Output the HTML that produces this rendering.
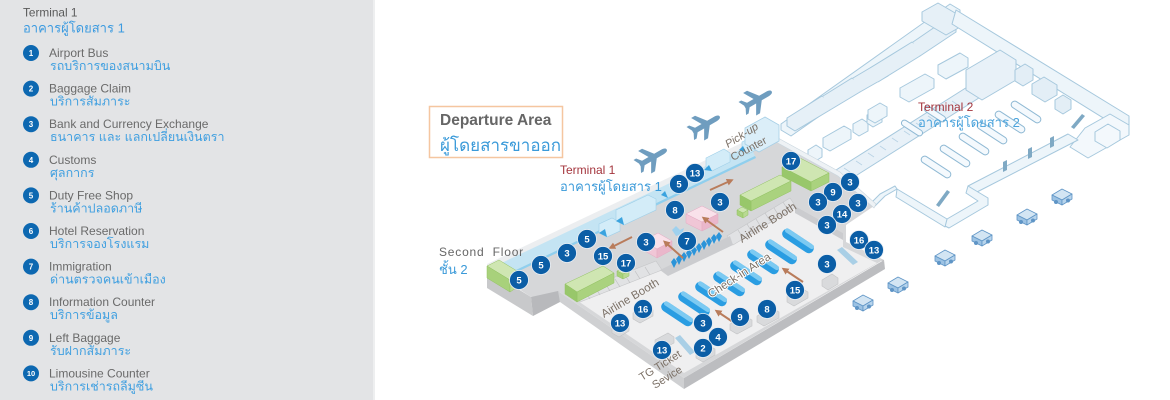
<!DOCTYPE html>
<html><head><meta charset="utf-8"><style>
html,body{margin:0;padding:0;background:#fff;}
svg{display:block;font-family:"Liberation Sans",sans-serif;}
</style></head><body>
<svg width="1170" height="400" viewBox="0 0 1170 400" xmlns="http://www.w3.org/2000/svg">
<defs>
<marker id="ah" markerWidth="7" markerHeight="7" refX="3" refY="3.5" orient="auto" markerUnits="userSpaceOnUse" viewBox="0 0 7 7"><path d="M0,0 L7,3.5 L0,7 Z" fill="#b97c5b"/></marker>
<g id="plane"><path d="M17,0 C17,-2 14,-2.6 12,-2.6 L4,-2.6 L-4,-13 L-8.5,-13 L-2.5,-2.6 L-10,-2.6 L-14,-7.5 L-17,-7.5 L-14,-1.6 L-14,1.6 L-17,7.5 L-14,7.5 L-10,2.6 L-2.5,2.6 L-8.5,13 L-4,13 L4,2.6 L12,2.6 C14,2.6 17,2 17,0 Z" fill="#6f9dbf"/></g>
<g id="car" stroke="#5f95c6" stroke-width="0.8" stroke-linejoin="round">
<path d="M-10,-1 L0,-7 L10,-2 L0,4 Z" fill="#d3e5f3"/>
<path d="M-10,-1 L0,4 L0,9 L-10,4 Z" fill="#9cc2e3"/>
<path d="M0,4 L10,-2 L10,3 L0,9 Z" fill="#b7d4ec"/>
<circle cx="-6" cy="6" r="1.6" fill="#5f95c6"/><circle cx="6" cy="4.5" r="1.6" fill="#5f95c6"/>
</g>
<g id="bar"><rect x="-18" y="-5" width="36" height="10" rx="5" fill="#2a9de2"/><rect x="-17" y="-5" width="34" height="4.5" rx="2.2" fill="#7ccaf2"/></g>
</defs>

<!-- LEFT PANEL -->
<rect x="0" y="0" width="373" height="400" fill="#e3e4e6"/>
<rect x="373" y="0" width="2" height="400" fill="#eeeff0"/>
<text x="23" y="16.5" font-size="11.8" fill="#5a5a5a">Terminal 1</text>
<text x="23" y="32.5" font-size="13" fill="#3d9be0">อาคารผู้โดยสาร 1</text>

<g font-size="12" fill="#6a6a6a">
<g>
<circle cx="31" cy="53" r="8" fill="#0d68b1"/><text x="31" y="56" font-size="8" font-weight="bold" fill="#fff" text-anchor="middle">1</text>
<text x="49" y="57">Airport Bus</text><text x="50" y="70" font-size="12.5" fill="#3f9fe0">รถบริการของสนามบิน</text>
</g>
<g>
<circle cx="31" cy="88.6" r="8" fill="#0d68b1"/><text x="31" y="91.6" font-size="8" font-weight="bold" fill="#fff" text-anchor="middle">2</text>
<text x="49" y="92.6">Baggage Claim</text><text x="50" y="105.6" font-size="12.5" fill="#3f9fe0">บริการสัมภาระ</text>
</g>
<g>
<circle cx="31" cy="124.2" r="8" fill="#0d68b1"/><text x="31" y="127.2" font-size="8" font-weight="bold" fill="#fff" text-anchor="middle">3</text>
<text x="49" y="128.2">Bank and Currency Exchange</text><text x="50" y="141.2" font-size="12.5" fill="#3f9fe0">ธนาคาร และ แลกเปลี่ยนเงินตรา</text>
</g>
<g>
<circle cx="31" cy="159.8" r="8" fill="#0d68b1"/><text x="31" y="162.8" font-size="8" font-weight="bold" fill="#fff" text-anchor="middle">4</text>
<text x="49" y="163.8">Customs</text><text x="50" y="176.8" font-size="12.5" fill="#3f9fe0">ศุลกากร</text>
</g>
<g>
<circle cx="31" cy="195.4" r="8" fill="#0d68b1"/><text x="31" y="198.4" font-size="8" font-weight="bold" fill="#fff" text-anchor="middle">5</text>
<text x="49" y="199.4">Duty Free Shop</text><text x="50" y="212.4" font-size="12.5" fill="#3f9fe0">ร้านค้าปลอดภาษี</text>
</g>
<g>
<circle cx="31" cy="231" r="8" fill="#0d68b1"/><text x="31" y="234" font-size="8" font-weight="bold" fill="#fff" text-anchor="middle">6</text>
<text x="49" y="235">Hotel Reservation</text><text x="50" y="248" font-size="12.5" fill="#3f9fe0">บริการจองโรงแรม</text>
</g>
<g>
<circle cx="31" cy="266.6" r="8" fill="#0d68b1"/><text x="31" y="269.6" font-size="8" font-weight="bold" fill="#fff" text-anchor="middle">7</text>
<text x="49" y="270.6">Immigration</text><text x="50" y="283.6" font-size="12.5" fill="#3f9fe0">ด่านตรวจคนเข้าเมือง</text>
</g>
<g>
<circle cx="31" cy="302.2" r="8" fill="#0d68b1"/><text x="31" y="305.2" font-size="8" font-weight="bold" fill="#fff" text-anchor="middle">8</text>
<text x="49" y="306.2">Information Counter</text><text x="50" y="319.2" font-size="12.5" fill="#3f9fe0">บริการข้อมูล</text>
</g>
<g>
<circle cx="31" cy="337.8" r="8" fill="#0d68b1"/><text x="31" y="340.8" font-size="8" font-weight="bold" fill="#fff" text-anchor="middle">9</text>
<text x="49" y="341.8">Left Baggage</text><text x="50" y="354.8" font-size="12.5" fill="#3f9fe0">รับฝากสัมภาระ</text>
</g>
<g>
<circle cx="31" cy="373.4" r="8" fill="#0d68b1"/><text x="31" y="376.2" font-size="7.5" font-weight="bold" fill="#fff" text-anchor="middle">10</text>
<text x="49" y="377.4">Limousine Counter</text><text x="50" y="390.4" font-size="12.5" fill="#3f9fe0">บริการเช่ารถลีมูซีน</text>
</g>
</g>

<!-- TERMINAL 2 (light outlines) -->
<g stroke="#a6c8dd" stroke-width="1" fill="#edf5fa" stroke-linejoin="round">
<path d="M781,124 L950,4 L960,10 L960,18 L791,136 L781,130 Z"/>
<path d="M787,118 L822,96 L830,101 L830,110 L795,131 L787,126 Z" fill="#e6f0f7"/>
<path d="M823,96 L852,78 L860,83 L860,92 L830,110" fill="#e6f0f7"/>
<path d="M853,78 L880,62 L888,67 L888,76 L860,92" fill="#e6f0f7"/>
<path d="M870,68 L912,42 L920,47 L920,56 L878,82" fill="#e6f0f7"/>
<path d="M913,42 L948,18 L956,23 L956,32 L920,56" fill="#e6f0f7"/>
<path d="M922,12 L938,3 L962,17 L962,26 L946,35 L922,21 Z" fill="#e6f0f7"/>
<path d="M956,10 L1129,116 L1129,125 L1121,129 L952,24 Z"/>
<path d="M1085,128 L1110,114 L1129,125 L1129,135 L1088,158 L1070,147 Z" fill="#f3f8fc"/>
<path d="M1068,134 L1078,140 L977,192 L968,186 Z"/>
<path d="M968,186 L988,198 L988,205 L949,228 L945,226 L947,219 L978,201 L966,193 Z"/>
<path d="M947,219 L945,227 L896,197 L897,189 Z"/>
<path d="M897,189 L885,196 L874,207 L870,204 L880,194 L895,186 Z"/>
<path d="M836,170 L972,84 L982,90 L982,96 L846,182 L836,176 Z" fill="#e8f1f8"/>
<path d="M966,70 L1000,50 L1016,60 L1016,80 L982,100 L966,90 Z" fill="#e8f1f8"/>
<path d="M900,88 L925,74 L934,79 L934,88 L909,102 L900,97 Z"/>
<path d="M938,65 L960,53 L968,58 L968,67 L946,79 L938,74 Z"/>
<path d="M808,150 L816,145 L822,149 L822,157 L814,162 L808,158 Z"/>
<path d="M823,138 L844,126 L851,130 L851,139 L830,151 L823,147 Z"/>
<path d="M853,124 L862,119 L868,123 L868,131 L859,136 L853,132 Z"/>
<path d="M867,115 L876,110 L882,114 L882,122 L873,127 L867,123 Z"/>
<path d="M868,110 L880,103 L887,107 L887,116 L875,123 L868,119 Z"/>
<path d="M1015,70 L1025,64 L1033,69 L1033,80 L1023,86 L1015,81 Z" fill="#e3eef6"/>
<path d="M1032,84 L1044,77 L1057,85 L1057,95 L1045,102 L1032,94 Z" fill="#e3eef6"/>
<path d="M1055,100 L1063,95 L1071,100 L1071,109 L1063,114 L1055,109 Z" fill="#e3eef6"/>
<path d="M1095,132 L1108,124 L1120,131 L1120,140 L1107,148 L1095,141 Z" fill="#f3f8fc"/>
</g>
<g stroke="#b8d3e4" stroke-width="0.8">
<line x1="850" y1="172" x2="844" y2="168"/><line x1="862" y1="165" x2="856" y2="161"/><line x1="874" y1="157" x2="868" y2="153"/><line x1="886" y1="150" x2="880" y2="146"/><line x1="898" y1="142" x2="892" y2="138"/><line x1="910" y1="135" x2="904" y2="131"/><line x1="922" y1="127" x2="916" y2="123"/><line x1="934" y1="120" x2="928" y2="116"/><line x1="946" y1="112" x2="940" y2="108"/><line x1="958" y1="105" x2="952" y2="101"/>
</g>
<g fill="#7fa9c4">
<path d="M1003,162 L1007,160 L1007,170 L1003,172 Z"/><path d="M1028,149 L1032,147 L1032,157 L1028,159 Z"/><path d="M1050,138 L1054,136 L1054,146 L1050,148 Z"/>
<path d="M936,205 L947,190 L950,192 L939,207 Z"/>
<path d="M1071,127 L1082,114 L1085,116 L1074,129 Z"/>
</g>
<g fill="#f4f9fd" stroke="#8fb9d4" stroke-width="1">
<rect x="-17" y="-3.5" width="34" height="7" rx="3.5" transform="translate(936,167) rotate(33)"/>
<rect x="-17" y="-3.5" width="34" height="7" rx="3.5" transform="translate(955,156) rotate(33)"/>
<rect x="-17" y="-3.5" width="34" height="7" rx="3.5" transform="translate(974,144) rotate(33)"/>
<rect x="-17" y="-3.5" width="34" height="7" rx="3.5" transform="translate(992,133) rotate(33)"/>
<rect x="-17" y="-3.5" width="34" height="7" rx="3.5" transform="translate(1010,122) rotate(33)"/>
<rect x="-17" y="-3.5" width="34" height="7" rx="3.5" transform="translate(1026,112) rotate(33)"/>
<rect x="-12" y="-3" width="24" height="6" rx="3" transform="translate(912,128) rotate(33)"/>
<rect x="-12" y="-3" width="24" height="6" rx="3" transform="translate(935,114) rotate(33)"/>
</g>

<!-- PLANES -->
<use href="#plane" transform="translate(652,158) rotate(-30)"/>
<use href="#plane" transform="translate(705,125) rotate(-30)"/>
<use href="#plane" transform="translate(757,100) rotate(-30)"/>

<!-- CARS -->
<use href="#car" transform="translate(863,302)"/>
<use href="#car" transform="translate(898,284)"/>
<use href="#car" transform="translate(945,257)"/>
<use href="#car" transform="translate(982,237)"/>
<use href="#car" transform="translate(1027,216)"/>
<use href="#car" transform="translate(1062,196)"/>

<!-- TERMINAL 1 -->
<path d="M487,270 L531,297 L533,316 L487,288 Z" fill="#c8c9cb"/>
<path d="M531,297 L559,284 L560,302 L533,316 Z" fill="#b8b9bc"/>
<path d="M558,291 L684,378 L684,389 L560,302 Z" fill="#cfd0d2"/>
<path d="M684,378 L884,260 L885,269 L684,389 Z" fill="#bcbdc0"/>
<path d="M845,242 L884,260 L884,262 L845,244 Z" fill="#c3c4c6"/>
<path d="M487,268 L748,144 L778,140 L838,174 L874,206 L846,225 L846,242 L883,260 L684,378 L558,291 L531,297 Z" fill="#d6d7d9"/>
<path d="M778,138 L840,172 L876,204 L874,208 L838,176 L776,142 Z" fill="#eef2f5" stroke="#c9d6df" stroke-width="0.6"/>
<path d="M487,264 L748,140 L752,146 L752,150 L492,274 L487,271 Z" fill="#eceef0"/>
<path d="M491,268 L750,145 L755,156 L495,280 Z" fill="#c4e4f3"/>
<path d="M495,280 L755,156 L756,158 L496,282 Z" fill="#8fcfee"/>
<g stroke="#9fcfe8" stroke-width="0.6">
<path d="M599,224 L612,218 L620,222 L620,231 L607,237 L599,233 Z" fill="#d3ecf8"/>
<path d="M616,210 L648,195 L656,199 L656,210 L624,225 L616,221 Z" fill="#d3ecf8"/>
<path d="M706,158 L724,149 L730,153 L730,162 L712,171 L706,167 Z" fill="#d3ecf8"/>
<path d="M742,142 L762,132 L768,136 L768,144 L748,154 L742,150 Z" fill="#d3ecf8"/>
</g>
<g fill="#3aa3df">
<path d="M599,233 L605,229 L607,237 Z"/><path d="M616,221 L622,217 L624,225 Z"/><path d="M661,195 L665,191 L668,198 Z"/><path d="M704,170 L709,165 L712,171 Z"/><path d="M676,184 L680,180 L683,186 Z"/><path d="M739,150 L743,146 L746,152 Z"/>
</g>
<path d="M745,128 L765,117 L779,125 L779,141 L759,152 L745,144 Z" fill="#dbeef8" stroke="#a6cfe6" stroke-width="0.8"/>

<!-- hall -->
<path d="M578,301 L660,270 L668,274 L795,206 L843,233 L843,247 L877,263 L684,373 L650,350 Z" fill="#efeff0"/>
<path d="M574,293 L656,261 L662,270 L580,302 Z" fill="#e1e2e4" stroke="#c5c6c8" stroke-width="0.6"/>
<path d="M727,236 L790,198 L796,207 L733,245 Z" fill="#e1e2e4" stroke="#c5c6c8" stroke-width="0.6"/>
<g stroke="#bfc0c2" stroke-width="0.7">
<line x1="585" y1="291" x2="590" y2="299"/><line x1="595" y1="287" x2="600" y2="295"/><line x1="605" y1="283" x2="610" y2="291"/><line x1="615" y1="279" x2="620" y2="287"/><line x1="625" y1="275" x2="630" y2="283"/><line x1="635" y1="271" x2="640" y2="279"/><line x1="645" y1="267" x2="650" y2="275"/>
<line x1="738" y1="230" x2="743" y2="238"/><line x1="747" y1="224" x2="752" y2="232"/><line x1="756" y1="219" x2="761" y2="227"/><line x1="765" y1="213" x2="770" y2="221"/><line x1="774" y1="208" x2="779" y2="216"/><line x1="783" y1="202" x2="788" y2="210"/>
</g>
<path d="M660,270 L730,236 L733,245 L668,276 Z" fill="#cbcccf"/>
<path d="M795,206 L843,233 L843,240 L795,213 Z" fill="#cbcccf"/>
<g fill="#d9dadc" stroke="#c2c3c5" stroke-width="0.6">
<path d="M787,296 L801,288 L808,292 L808,298 L794,306 L787,302 Z"/>
<path d="M757,316 L772,308 L779,312 L779,318 L764,326 L757,322 Z"/>
<path d="M730,324 L745,316 L752,320 L752,326 L737,334 L730,330 Z"/>
<path d="M822,280 L832,274 L838,278 L838,284 L828,290 L822,286 Z"/>
<path d="M633,313 L646,306 L653,310 L653,316 L640,323 L633,319 Z"/>
<path d="M612,327 L622,321 L629,325 L629,331 L619,337 L612,333 Z"/>
<path d="M655,340 L668,333 L674,337 L674,343 L661,350 L655,346 Z"/>
<path d="M696,352 L708,345 L715,349 L715,355 L703,362 L696,358 Z"/>
</g>
<path d="M675,338 L680,335 L695,352 L690,355 Z" fill="#a9cfe6"/>
<path d="M837,250 L842,247 L858,262 L853,265 Z" fill="#a9cfe6"/>

<!-- green blocks -->
<g stroke="#93c263" stroke-width="0.5">
<path d="M487,266 L499,260 L522,274 L510,280 Z" fill="#cfe6b2"/>
<path d="M487,266 L510,280 L510,292 L487,278 Z" fill="#a8d17b"/>
<path d="M510,280 L522,274 L522,284 L510,292 Z" fill="#b9da93"/>
<path d="M565,284 L603,266 L614,273 L577,292 Z" fill="#cfe6b2"/>
<path d="M577,292 L614,273 L614,283 L577,302 Z" fill="#aad27e"/>
<path d="M565,284 L577,292 L577,302 L565,294 Z" fill="#98c76a"/>
<path d="M617,271 L623,268 L629,271 L623,274 Z" fill="#cfe6b2"/>
<path d="M617,271 L623,274 L623,279 L617,276 Z" fill="#a8d17b"/>
<path d="M623,274 L629,271 L629,276 L623,279 Z" fill="#b9da93"/>
<path d="M740,195 L780,175 L791,181 L751,201 Z" fill="#cfe6b2"/>
<path d="M751,201 L791,181 L791,191 L751,211 Z" fill="#aad27e"/>
<path d="M740,195 L751,201 L751,211 L740,205 Z" fill="#98c76a"/>
<path d="M737,210 L742,207 L748,210 L743,213 Z" fill="#cfe6b2"/>
<path d="M737,210 L743,213 L743,218 L737,215 Z" fill="#a8d17b"/>
<path d="M743,213 L748,210 L748,215 L743,218 Z" fill="#b9da93"/>
<path d="M782,167 L800,158 L829,173 L811,182 Z" fill="#cfe6b2"/>
<path d="M811,182 L829,173 L829,182 L811,191 Z" fill="#aad27e"/>
<path d="M782,167 L811,182 L811,191 L782,176 Z" fill="#98c76a"/>
</g>

<!-- pink blocks -->
<g stroke="#e4aac2" stroke-width="0.5">
<path d="M643,241 L658,233 L672,241 L657,249 Z" fill="#f9e1ea"/>
<path d="M643,241 L657,249 L657,258 L643,250 Z" fill="#f0c6d6"/>
<path d="M657,249 L672,241 L672,250 L657,258 Z" fill="#eab7cb"/>
<path d="M686,214 L702,206 L718,214 L702,222 Z" fill="#f9e1ea"/>
<path d="M686,214 L702,222 L702,231 L686,223 Z" fill="#f0c6d6"/>
<path d="M702,222 L718,214 L718,223 L702,231 Z" fill="#eab7cb"/>
</g>

<!-- immigration counters -->
<g fill="#2b94d9">
<path d="M671,262 L674,258 L677,262 L674,268 Z"/><path d="M676,259 L679,255 L682,259 L679,265 Z"/><path d="M681,256 L684,252 L687,256 L684,262 Z"/><path d="M686,253 L689,249 L692,253 L689,259 Z"/><path d="M691,250 L694,246 L697,250 L694,256 Z"/><path d="M696,247 L699,243 L702,247 L699,253 Z"/><path d="M701,244 L704,240 L707,244 L704,250 Z"/><path d="M706,241 L709,237 L712,241 L709,247 Z"/><path d="M711,238 L714,234 L717,238 L714,244 Z"/><path d="M716,236 L719,232 L722,236 L719,242 Z"/>
</g>
<path d="M672,230 L676,226 L680,230 L684,228 L682,234 L676,236 Z" fill="#9fd1ee"/>

<!-- check-in counters -->
<use href="#bar" transform="translate(677,314) rotate(33.7)"/>
<use href="#bar" transform="translate(694,304) rotate(33.7)"/>
<use href="#bar" transform="translate(711,294) rotate(33.7)"/>
<use href="#bar" transform="translate(729,284) rotate(33.7)"/>
<use href="#bar" transform="translate(746,273) rotate(33.7)"/>
<use href="#bar" transform="translate(763,262) rotate(33.7)"/>
<use href="#bar" transform="translate(781,252) rotate(33.7)"/>
<use href="#bar" transform="translate(798,241) rotate(33.7)"/>

<!-- arrows -->
<g stroke="#b97c5b" stroke-width="2" fill="none" marker-end="url(#ah)">
<line x1="710" y1="190" x2="730" y2="181"/>
<line x1="632" y1="237" x2="612" y2="247"/>
<line x1="723" y1="232" x2="705" y2="219"/>
<line x1="683" y1="258" x2="666" y2="243"/>
<line x1="803" y1="282" x2="785" y2="270"/>
<line x1="733" y1="322" x2="718" y2="312"/>
</g>

<!-- rotated labels -->
<g font-size="11.5" fill="#7b7066">
<text transform="translate(604,318) rotate(-31)">Airline Booth</text>
<text transform="translate(742,243) rotate(-32)">Airline Booth</text>
<text transform="translate(711,298) rotate(-33)" stroke="#fff" stroke-width="2" paint-order="stroke">Check-in Area</text>
<text transform="translate(642,381) rotate(-32)" font-size="11">TG Ticket</text>
<text transform="translate(655,389) rotate(-32)" font-size="11">Sevice</text>
<text transform="translate(728,148) rotate(-32)" font-size="11" font-style="italic">Pick-up</text>
<text transform="translate(733,161) rotate(-28)" font-size="11">Counter</text>
</g>

<!-- markers -->
<g font-size="9.5" font-weight="bold" fill="#fff" text-anchor="middle">
<g fill="#0b5ea6" stroke="#e8eef4" stroke-width="0.8">
<circle cx="791" cy="161" r="9.5"/><circle cx="695" cy="173" r="9.5"/><circle cx="679" cy="184" r="9.5"/><circle cx="720" cy="202" r="9.5"/><circle cx="675" cy="210" r="9.5"/>
<circle cx="850" cy="182" r="9.5"/><circle cx="833" cy="192" r="9.5"/><circle cx="818" cy="202" r="9.5"/><circle cx="858" cy="203" r="9.5"/><circle cx="842" cy="214" r="9.5"/><circle cx="827" cy="225" r="9.5"/>
<circle cx="859" cy="240" r="9.5"/><circle cx="874" cy="250" r="9.5"/><circle cx="827" cy="264" r="9.5"/>
<circle cx="587" cy="239" r="9.5"/><circle cx="646" cy="242" r="9.5"/><circle cx="687" cy="241" r="9.5"/><circle cx="567" cy="253" r="9.5"/><circle cx="603" cy="256" r="9.5"/><circle cx="626" cy="263" r="9.5"/><circle cx="541" cy="265" r="9.5"/><circle cx="519" cy="280" r="9.5"/>
<circle cx="795" cy="290" r="9.5"/><circle cx="767" cy="309" r="9.5"/><circle cx="740" cy="317" r="9.5"/><circle cx="643" cy="309" r="9.5"/><circle cx="620" cy="323" r="9.5"/><circle cx="703" cy="323" r="9.5"/><circle cx="718" cy="337" r="9.5"/><circle cx="703" cy="348" r="9.5"/><circle cx="662" cy="350" r="9.5"/>
</g>
<text x="791" y="164.5">17</text><text x="695" y="176.5">13</text><text x="679" y="187.5">5</text><text x="720" y="205.5">3</text><text x="675" y="213.5">8</text>
<text x="850" y="185.5">3</text><text x="833" y="195.5">9</text><text x="818" y="205.5">3</text><text x="858" y="206.5">3</text><text x="842" y="217.5">14</text><text x="827" y="228.5">3</text>
<text x="859" y="243.5">16</text><text x="874" y="253.5">13</text><text x="827" y="267.5">3</text>
<text x="587" y="242.5">5</text><text x="646" y="245.5">3</text><text x="687" y="244.5">7</text><text x="567" y="256.5">3</text><text x="603" y="259.5">15</text><text x="626" y="266.5">17</text><text x="541" y="268.5">5</text><text x="519" y="283.5">5</text>
<text x="795" y="293.5">15</text><text x="767" y="312.5">8</text><text x="740" y="320.5">9</text><text x="643" y="312.5">16</text><text x="620" y="326.5">13</text><text x="703" y="326.5">3</text><text x="718" y="340.5">4</text><text x="703" y="351.5">2</text><text x="662" y="353.5">13</text>
</g>

<!-- headline labels -->
<rect x="429.5" y="106.5" width="133" height="51" fill="#fff" stroke="#f5c6a0" stroke-width="1.5"/>
<text x="440" y="125" font-size="15.5" font-weight="bold" fill="#666">Departure Area</text>
<text x="440" y="151" font-size="17" fill="#3a9ad9">ผู้โดยสารขาออก</text>

<text x="560" y="174" font-size="12" fill="#a4353d">Terminal 1</text>
<text x="560" y="191" font-size="13" fill="#3a9ad9">อาคารผู้โดยสาร 1</text>

<text x="439" y="256" font-size="12" fill="#666" letter-spacing="0.8" word-spacing="4">Second Floor</text>
<text x="439" y="274" font-size="13" fill="#3a9ad9">ชั้น 2</text>

<text x="918" y="111" font-size="12" fill="#a4353d">Terminal 2</text>
<text x="918" y="127" font-size="13" fill="#4aa3dc">อาคารผู้โดยสาร 2</text>
</svg>
</body></html>
